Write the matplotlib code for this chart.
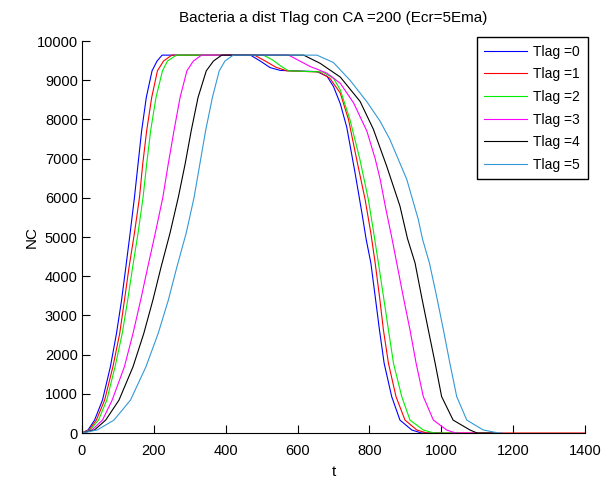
import matplotlib
matplotlib.use("Agg")
import matplotlib.pyplot as plt

# values (t, NC)
rise_nc = [0, 80, 330, 840, 1690, 2540, 3380, 4230, 5100, 6010, 6860, 7710, 8560, 9240, 9490, 9640]

t_tlag0 = [0, 17, 35, 57, 79, 96, 110, 122, 134, 146, 156, 166, 179, 195, 209, 223,
           469, 496, 524, 552, 654, 682, 700, 719, 737, 760, 779, 791, 804, 816, 828, 841, 862, 885, 918, 945, 1000]
nc_tlag0 = rise_nc + [9640, 9490, 9320, 9250, 9220, 9100, 8840, 8400, 7800, 6640, 5620, 4940, 4340, 3490,
                      2630, 1780, 930, 330, 77, 0, 0]

t_tlag1 = [0, 20, 40, 63, 86, 105, 118, 131, 146, 160, 169, 180, 194, 210, 227, 250,
           480, 510, 540, 570, 660, 690, 719, 742, 765, 788, 804, 816, 828, 839, 853, 874, 899, 932, 960, 1400]
nc_tlag1 = rise_nc + [9640, 9490, 9330, 9240, 9210, 9050, 8670, 7990, 6960, 5960, 5100, 4340, 3490, 2630,
                      1780, 930, 330, 77, 0, 0]

t_tlag2 = [0, 23, 46, 69, 92, 112, 127, 141, 156, 170, 180, 191, 206, 224, 238, 263,
           505, 530, 555, 575, 670, 700, 719, 746, 774, 797, 811, 825, 839, 853, 867, 890, 913, 950, 980, 1050]
nc_tlag2 = rise_nc + [9640, 9520, 9350, 9240, 9210, 9050, 8750, 7990, 6960, 5960, 5165, 4340, 3490, 2630,
                      1780, 930, 330, 77, 0, 0]

t_tlag3 = [0, 28, 57, 84, 118, 142, 163, 183, 204, 225, 240, 256, 273, 292, 310, 333,
           575, 600, 635, 682, 719, 756, 793, 816, 830, 845, 862, 876, 894, 913, 930, 950, 978, 1015, 1040, 1100]
nc_tlag3 = rise_nc + [9640, 9520, 9350, 9180, 8920, 8420, 7700, 7000, 6470, 5750, 5000, 4340, 3490, 2630,
                      1780, 930, 330, 77, 0, 0]

t_tlag4 = [0, 35, 66, 103, 142, 172, 197, 220, 245, 268, 287, 304, 323, 346, 366, 389,
           617, 663, 719, 774, 811, 848, 885, 906, 927, 945, 964, 983, 1001, 1033, 1080, 1100, 1150]
nc_tlag4 = rise_nc + [9640, 9430, 9080, 8460, 7750, 6810, 5790, 4960, 4340, 3490, 2630, 1780, 930, 330,
                      77, 0, 0]

t_tlag5 = [0, 43, 89, 135, 178, 212, 240, 264, 290, 312, 328, 344, 363, 382, 398, 421,
           654, 700, 746, 793, 830, 857, 904, 936, 948, 967, 987, 1006, 1024, 1043, 1071, 1117, 1160, 1170]
nc_tlag5 = rise_nc + [9640, 9450, 9000, 8450, 7950, 7490, 6470, 5450, 4940, 4340, 3490, 2630, 1780, 930,
                      330, 77, 0, 0]

labels = ["Tlag =0", "Tlag =1", "Tlag =2", "Tlag =3", "Tlag =4", "Tlag =5"]
colors = ["#0000ff", "#ff0000", "#00ee00", "#ff00ff", "#000000", "#3399d6"]

plt.rcParams["font.family"] = ["Liberation Sans", "DejaVu Sans"]

fig = plt.figure(figsize=(6.02, 4.78), dpi=100)
ax = fig.add_axes([0.1362, 0.0941, 0.8355, 0.8201])

series = [(t_tlag0, nc_tlag0), (t_tlag1, nc_tlag1), (t_tlag2, nc_tlag2),
          (t_tlag3, nc_tlag3), (t_tlag4, nc_tlag4), (t_tlag5, nc_tlag5)]
for (t, nc), lab, col in zip(series, labels, colors):
    ax.plot(t, nc, color=col, lw=0.8, label=lab)

ax.set_xlim(0, 1400)
ax.set_ylim(0, 10000)
ax.set_xticks(range(0, 1401, 200))
ax.set_yticks(range(0, 10001, 1000))
ax.tick_params(direction="in", length=6, width=0.8, labelsize=10.5)
ax.tick_params(axis="x", pad=8)
ax.tick_params(axis="y", pad=3)
ax.spines["top"].set_visible(False)
ax.spines["right"].set_visible(False)
for s in ("left", "bottom"):
    ax.spines[s].set_linewidth(0.8)

ax.set_title("Bacteria a dist Tlag con CA =200 (Ecr=5Ema)", fontsize=11, pad=14)
ax.set_xlabel("t", fontsize=11, labelpad=5)
ax.set_ylabel("NC", fontsize=11, labelpad=-1.5)

leg = ax.legend(loc="upper right", bbox_to_anchor=(1.006, 1.010), borderaxespad=0, fontsize=10,
                fancybox=False, edgecolor="black", framealpha=1, handlelength=3.1,
                handletextpad=0.45, labelspacing=0.62, borderpad=0.55)
leg.get_frame().set_linewidth(1.0)

fig.savefig("out.png", dpi=100)
